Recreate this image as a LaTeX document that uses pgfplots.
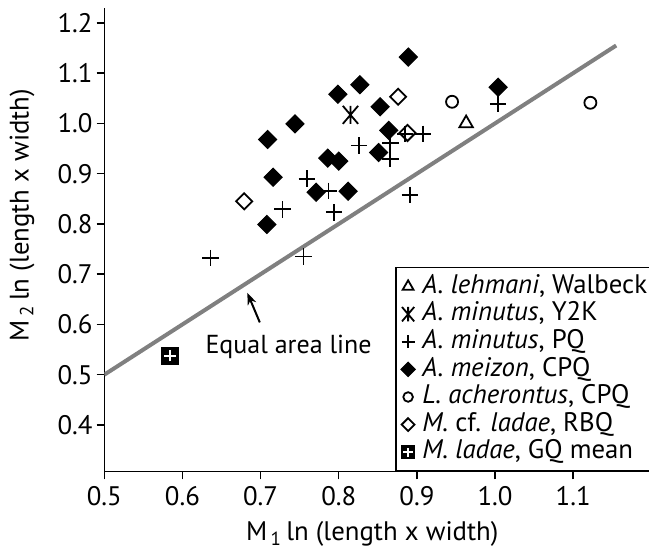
\documentclass[border=0pt]{standalone}
\usepackage{fontspec}
\setmainfont{PT Sans}
\usepackage{pgfplots}
\pgfplotsset{compat=1.18}
\usetikzlibrary{arrows.meta}

% asterisk: vertical bar with an X through it
\pgfdeclareplotmark{xast}{%
  \pgfpathmoveto{\pgfqpoint{0pt}{\pgfplotmarksize}}%
  \pgfpathlineto{\pgfqpoint{0pt}{-\pgfplotmarksize}}%
  \pgfpathmoveto{\pgfqpoint{-.85\pgfplotmarksize}{\pgfplotmarksize}}%
  \pgfpathlineto{\pgfqpoint{.85\pgfplotmarksize}{-\pgfplotmarksize}}%
  \pgfpathmoveto{\pgfqpoint{.85\pgfplotmarksize}{\pgfplotmarksize}}%
  \pgfpathlineto{\pgfqpoint{-.85\pgfplotmarksize}{-\pgfplotmarksize}}%
  \pgfusepathqstroke}
% black square with white plus
\pgfdeclareplotmark{sqplus}{%
  \pgfpathrectangle{\pgfqpoint{-\pgfplotmarksize}{-\pgfplotmarksize}}{\pgfqpoint{2\pgfplotmarksize}{2\pgfplotmarksize}}%
  \pgfsetfillcolor{black}\pgfusepathqfill
  \pgfsetstrokecolor{white}\pgfsetlinewidth{1pt}%
  \pgfpathmoveto{\pgfqpoint{-.65\pgfplotmarksize}{0pt}}%
  \pgfpathlineto{\pgfqpoint{.65\pgfplotmarksize}{0pt}}%
  \pgfpathmoveto{\pgfqpoint{0pt}{-.65\pgfplotmarksize}}%
  \pgfpathlineto{\pgfqpoint{0pt}{.65\pgfplotmarksize}}%
  \pgfusepathqstroke}

\newcommand{\axlab}[1]{M\hspace{0.12em}\raisebox{-0.35ex}{\fontsize{9.5}{9.5}\selectfont #1}\hspace{0.2em}ln (length x width)}

\begin{document}
\begin{tikzpicture}
\begin{axis}[
    scale only axis,
    width=272.35pt, height=231.7pt,
    xmin=0.5, xmax=1.197, ymin=0.307, ymax=1.229,
    axis x line=bottom, axis y line=left,
    axis line style={-, line width=0.7pt},
    xtick={0.5,0.6,0.7,0.8,0.9,1.0,1.1},
    ytick={0.4,0.5,0.6,0.7,0.8,0.9,1.0,1.1,1.2},
    tick align=outside, major tick length=3.85pt,
    tick style={line width=0.7pt, black},
    /pgf/number format/.cd, fixed, fixed zerofill, precision=1,
    assume math mode=true, /pgfplots/.cd,
    tick label style={font=\fontsize{13.4}{16}\selectfont},
    yticklabel style={xshift=1.5pt},
    xlabel={\axlab{1}},
    ylabel={\axlab{2}},
    every axis x label/.style={at={(axis description cs:0.492,-0.149)}, anchor=base,
        font=\fontsize{13.4}{16}\selectfont},
    every axis y label/.style={at={(axis description cs:-0.151,0.554)}, rotate=90, anchor=center,
        font=\fontsize{13.4}{16}\selectfont},
    legend cell align=left,
    legend style={at={(rel axis cs:0.534,0)}, anchor=south west,
        draw=black, line width=0.7pt, inner sep=2.5pt,
        font=\fontsize{13.4}{16}\selectfont,
        nodes={inner xsep=1pt, inner ysep=0.3pt, text height=10pt, text depth=3.2pt},
        column sep=2.5pt, row sep=0pt},
    legend image code/.code={\draw[#1, every mark/.append style={scale=0.8}] plot coordinates {(0pt,0pt)};},
]
\addplot[forget plot, black!50, line width=2pt] coordinates {(0.5,0.5) (1.155,1.155)};

\addplot[only marks, mark=triangle, mark size=3.9pt, mark options={line width=0.9pt, black}]
    coordinates {(0.963,1.000)};
\addlegendentry{{\itshape A. lehmani}, Walbeck}
\addplot[only marks, mark=xast, mark size=4.5pt, mark options={line width=0.9pt, black}]
    coordinates {(0.815,1.017)};
\addlegendentry{{\itshape A. minutus}, Y2K}
\addplot[only marks, mark=+, mark size=4.1pt, mark options={line width=0.9pt, black}]
    coordinates {
    (1.004,1.039) (0.908,0.979) (0.885,0.979) (0.866,0.961) (0.866,0.929)
    (0.826,0.956) (0.759,0.890) (0.787,0.866) (0.794,0.823) (0.728,0.829)
    (0.891,0.858) (0.636,0.732) (0.755,0.735)};
\addlegendentry{{\itshape A. minutus}, PQ}
\addplot[only marks, mark=square*, mark size=3.2pt, mark options={rotate=45, line width=0.5pt, black, fill=black}]
    coordinates {
    (0.889,1.132) (0.827,1.077) (0.799,1.058) (0.853,1.033) (0.744,0.999)
    (0.709,0.968) (0.864,0.986) (0.851,0.942) (0.786,0.931) (0.800,0.925)
    (0.716,0.893) (0.771,0.863) (0.812,0.865) (0.708,0.799) (1.004,1.072)};
\addlegendentry{{\itshape A. meizon}, CPQ}
\addplot[only marks, mark=o, mark size=3.0pt, mark options={line width=0.9pt, black}]
    coordinates {(0.945,1.043) (1.122,1.041)};
\addlegendentry{{\itshape L. acherontus}, CPQ}
\addplot[only marks, mark=square, mark size=2.85pt, mark options={rotate=45, line width=0.9pt, black}]
    coordinates {(0.876,1.053) (0.888,0.981) (0.679,0.845)};
\addlegendentry{{\itshape M.} cf. {\itshape ladae}, RBQ}
\addplot[only marks, mark=sqplus, mark size=4.5pt]
    coordinates {(0.584,0.538)};
\addlegendentry{{\itshape M. ladae}, GQ mean}

\node[anchor=base west, inner sep=0pt, font=\fontsize{13}{15}\selectfont]
    at (axis cs:0.629,0.543) {Equal area line};
\draw[-{Stealth[length=6pt,width=4.5pt]}, line width=1pt]
    (axis cs:0.699,0.604) -- (axis cs:0.683,0.663);
\end{axis}
\pgfresetboundingbox
\path (current axis.south west) ++(-52.15pt,-39.15pt) rectangle ([yshift=4.15pt]current axis.north east);
\end{tikzpicture}
\end{document}
